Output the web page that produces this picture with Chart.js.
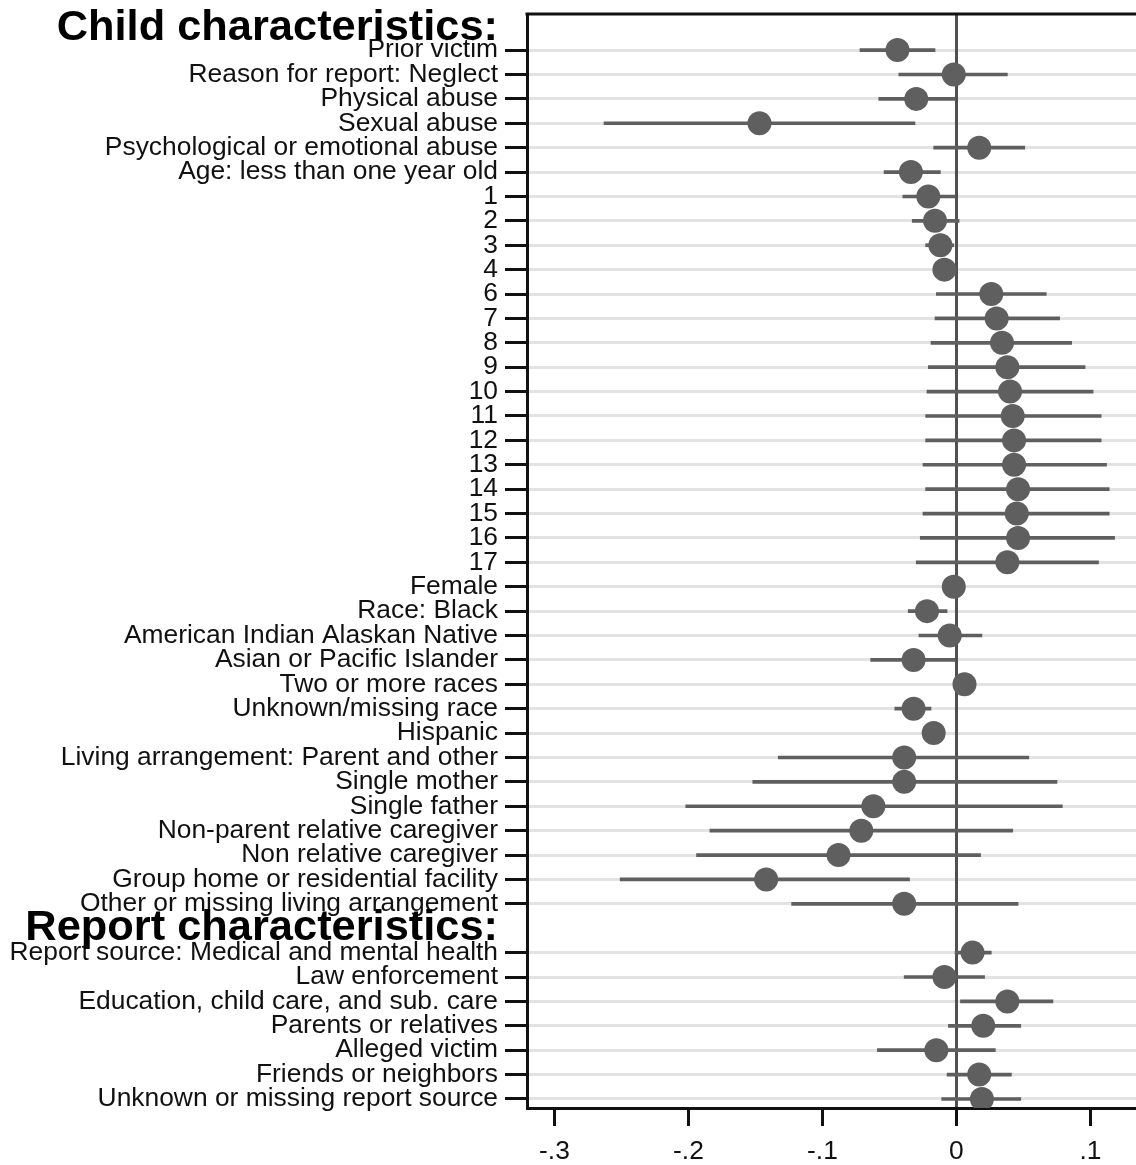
<!DOCTYPE html>
<html>
<head>
<meta charset="utf-8">
<script src="https://cdn.jsdelivr.net/npm/chart.js@4"></script>
<style>
  html, body { margin: 0; padding: 0; background: #fff; }
</style>
</head>
<body>
<canvas id="coefChart" width="1136" height="1165"></canvas>
<script>
// --- Data (row 36 is the empty slot for the second header) ---
const rowLabels = [
    'Prior victim', 'Reason for report: Neglect', 'Physical abuse', 'Sexual abuse',
    'Psychological or emotional abuse', 'Age: less than one year old',
    '1', '2', '3', '4', '6', '7', '8', '9', '10', '11', '12', '13', '14', '15', '16', '17',
    'Female', 'Race: Black', 'American Indian Alaskan Native', 'Asian or Pacific Islander',
    'Two or more races', 'Unknown/missing race', 'Hispanic',
    'Living arrangement: Parent and other', 'Single mother', 'Single father',
    'Non-parent relative caregiver', 'Non relative caregiver',
    'Group home or residential facility', 'Other or missing living arrangement',
    '',
    'Report source: Medical and mental health', 'Law enforcement',
    'Education, child care, and sub. care', 'Parents or relatives', 'Alleged victim',
    'Friends or neighbors', 'Unknown or missing report source'
];
const coefs = [
    -0.044, -0.002, -0.030, -0.147, 0.017, -0.034,
    -0.021, -0.016, -0.012, -0.009, 0.026, 0.030, 0.034, 0.038, 0.040, 0.042, 0.043, 0.043, 0.046, 0.045, 0.046, 0.038,
    -0.002, -0.022, -0.005, -0.032, 0.006, -0.032, -0.017,
    -0.039, -0.039, -0.062, -0.071, -0.088, -0.142, -0.039,
    null,
    0.012, -0.009, 0.038, 0.020, -0.015, 0.017, 0.019
];
const ciLow = [
    -0.072, -0.043, -0.058, -0.263, -0.017, -0.054,
    -0.040, -0.033, -0.023, -0.016, -0.015, -0.016, -0.019, -0.021, -0.022, -0.023, -0.023, -0.025, -0.023, -0.025, -0.027, -0.030,
    -0.006, -0.036, -0.028, -0.064, 0.001, -0.046, -0.024,
    -0.133, -0.152, -0.202, -0.184, -0.194, -0.251, -0.123,
    null,
    -0.001, -0.039, 0.003, -0.006, -0.059, -0.007, -0.011
];
const ciHigh = [
    -0.016, 0.038, -0.001, -0.031, 0.051, -0.012,
    -0.001, 0.002, -0.002, 0.000, 0.067, 0.077, 0.086, 0.096, 0.102, 0.108, 0.108, 0.112, 0.114, 0.114, 0.118, 0.106,
    0.003, -0.007, 0.019, -0.001, 0.012, -0.019, -0.010,
    0.054, 0.075, 0.079, 0.042, 0.018, -0.035, 0.046,
    null,
    0.026, 0.021, 0.072, 0.048, 0.029, 0.041, 0.048
];
const xTickValues = [-0.3, -0.2, -0.1, 0, 0.1];
const xTickLabels = ['-.3', '-.2', '-.1', '0', '.1'];
const groupHeaders = ['Child characteristics:', 'Report characteristics:'];
const headerRows = [-0.9, 36];

const markColor = '#5f5f5f';
const labelFont = { family: 'Liberation Sans', size: 26.4 };

// Punkte und CI-Balken
const pointData = [], ciData = [];
rowLabels.forEach((lbl, i) => {
    if (coefs[i] === null) return;
    pointData.push({ x: coefs[i], y: i });
    ciData.push({ y: i, x: [ciLow[i], ciHigh[i]] });
});

// Rahmen oben + Gruppenüberschriften
const framePlugin = {
    id: 'frame',
    beforeDatasetsDraw(chart) {
        const { ctx, chartArea } = chart;
        ctx.save();
        ctx.strokeStyle = '#111';
        ctx.lineWidth = 3;
        ctx.beginPath();
        ctx.moveTo(chartArea.left - 1.5, chartArea.top);
        ctx.lineTo(chartArea.right, chartArea.top);
        ctx.stroke();
        ctx.restore();
    },
    afterDraw(chart) {
        const { ctx } = chart;
        const yScale = chart.scales.y;
        ctx.save();
        ctx.fillStyle = '#000';
        ctx.font = 'bold 43.4px "Liberation Sans"';
        ctx.textAlign = 'right';
        ctx.textBaseline = 'middle';
        groupHeaders.forEach((txt, k) => {
            ctx.fillText(txt, 498, yScale.getPixelForValue(headerRows[k]));
        });
        ctx.restore();
    }
};

new Chart(document.getElementById('coefChart').getContext('2d'), {
    type: 'bar',
    data: {
        datasets: [
            {
                type: 'line',
                data: pointData,
                showLine: false,
                pointRadius: 12,
                pointStyle: 'circle',
                pointBackgroundColor: markColor,
                pointBorderWidth: 0,
                order: 0
            },
            {
                type: 'bar',
                data: ciData,
                backgroundColor: markColor,
                barThickness: 3,
                borderWidth: 0,
                order: 1
            }
        ]
    },
    options: {
        indexAxis: 'y',
        responsive: false,
        animation: false,
        devicePixelRatio: 1,
        events: [],
        layout: { autoPadding: false, padding: { top: 14, right: 0, left: 0, bottom: 0 } },
        plugins: { legend: { display: false }, tooltip: { enabled: false } },
        scales: {
            y: {
                type: 'linear',
                reverse: true,
                offset: false,
                min: -1.48,
                max: 43.37,
                z: -1,
                afterBuildTicks: s => {
                    s.ticks = rowLabels.map((l, i) => ({ value: i })).filter(t => rowLabels[t.value] !== '');
                },
                afterFit: s => { s.width = 527; s.paddingTop = 0; s.paddingBottom = 0; },
                ticks: {
                    autoSkip: false,
                    callback: v => rowLabels[v],
                    font: labelFont,
                    color: '#111',
                    padding: 7
                },
                grid: {
                    offset: false,
                    color: '#e3e3e3',
                    lineWidth: 3,
                    tickColor: '#111',
                    tickLength: 22,
                    tickWidth: 3
                },
                border: { color: '#111', width: 3 }
            },
            x: {
                type: 'linear',
                min: -0.3205,
                max: 0.134,
                afterBuildTicks: s => { s.ticks = xTickValues.map(v => ({ value: v })); },
                afterFit: s => { s.height = 57; s.paddingLeft = 0; s.paddingRight = 0; },
                ticks: {
                    autoSkip: false,
                    maxRotation: 0,
                    callback: v => xTickLabels[xTickValues.indexOf(v)],
                    font: labelFont,
                    color: '#111',
                    padding: 10
                },
                grid: {
                    color: c => (c.tick && c.tick.value === 0) ? '#505050' : 'rgba(0,0,0,0)',
                    lineWidth: 3,
                    tickColor: '#111',
                    tickLength: 18,
                    tickWidth: 3
                },
                border: { color: '#111', width: 3 }
            }
        }
    },
    plugins: [framePlugin]
});
</script>
</body>
</html>
